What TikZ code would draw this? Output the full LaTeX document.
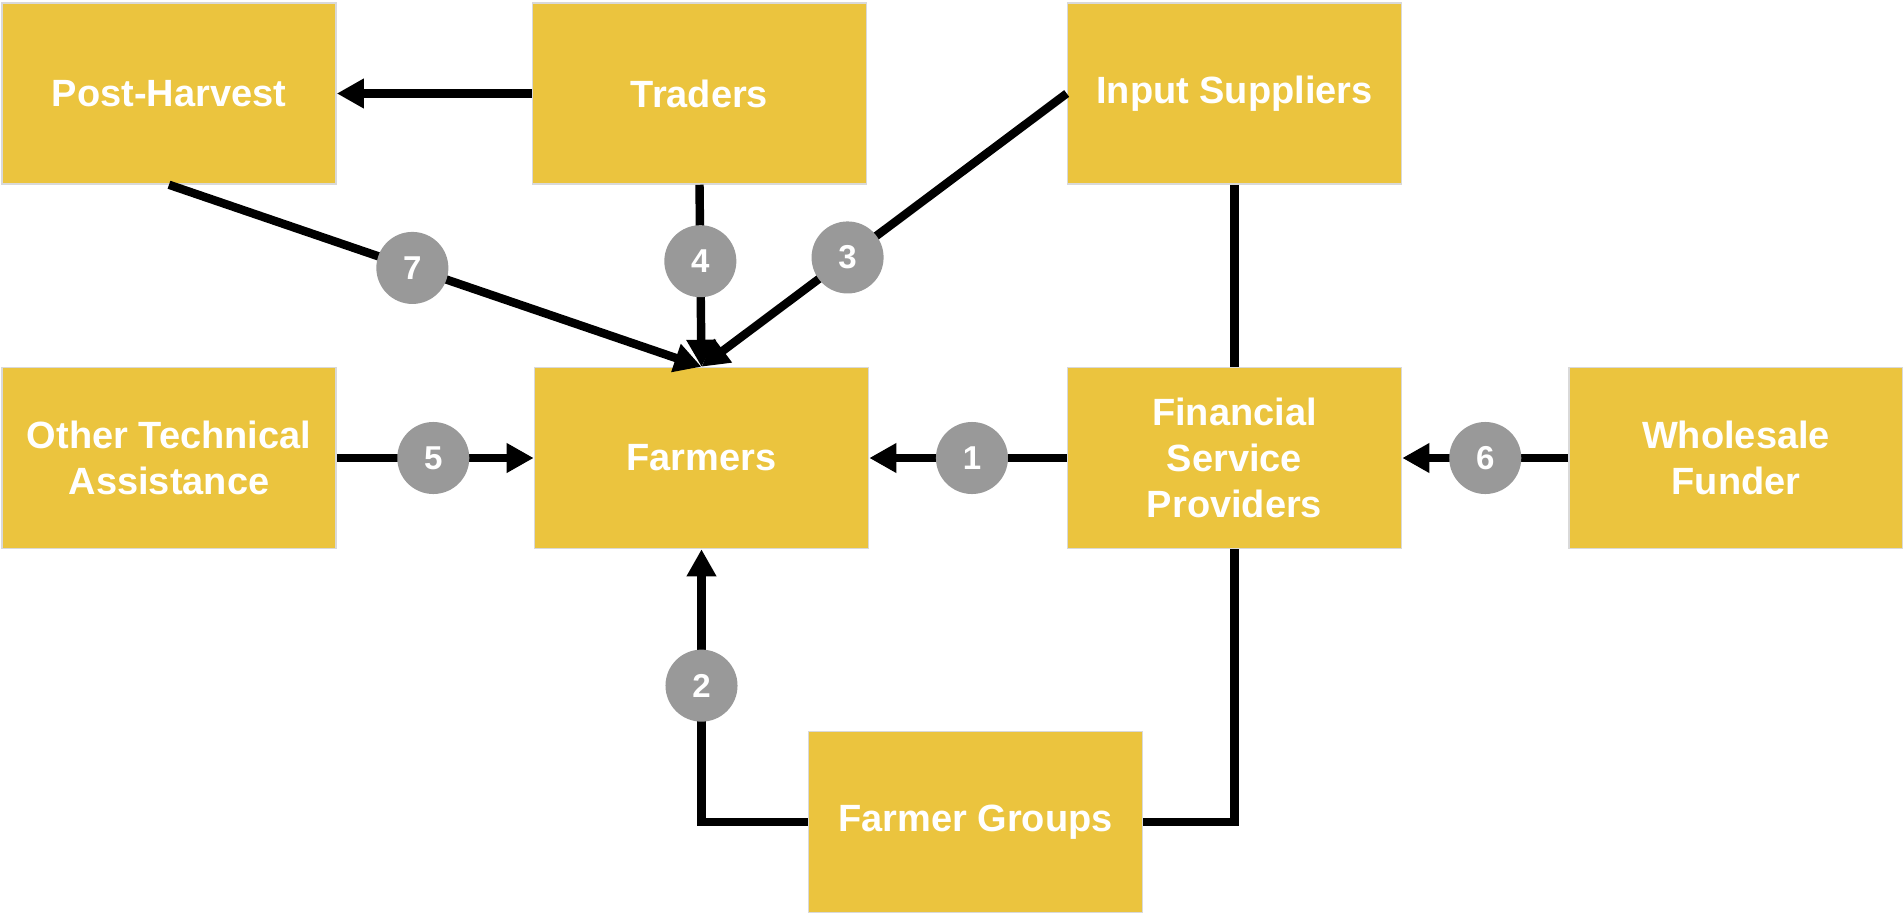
\documentclass[tikz,border=0pt]{standalone}
\usepackage{fontspec}
\setmainfont{Liberation Sans}
\usetikzlibrary{arrows.meta}

\definecolor{boxyellow}{RGB}{235,196,62}
\definecolor{dotgray}{RGB}{153,153,153}

\begin{document}
\begin{tikzpicture}[x=0.01cm, y=-0.01cm,
    actor/.style={fill=boxyellow, draw=black!15, line width=0.4pt,
        minimum width=3.34cm, minimum height=1.81cm, align=center,
        text=white, font=\fontsize{10.8}{13.1}\selectfont\bfseries},
    num/.style={circle, fill=dotgray, minimum size=0.72cm, inner sep=0pt,
        text=white, font=\fontsize{9.4}{11}\selectfont\bfseries},
    link/.style={line width=2.4pt},
    flow/.style={link, -{Triangle[length=2.7mm, width=2.8mm]}}]
    \useasboundingbox (0,0) rectangle (1903,912);

    % Top row
    \node[actor] (harvest) at (169,93.5) {Post-Harvest};
    \node[actor] (traders) at (699.5,93.5) {Traders};
    \node[actor] (inputs) at (1234.5,93.5) {Input Suppliers};

    % Middle row
    \node[actor] (othta) at (169,458) {Other Technical\\Assistance};
    \node[actor] (farmers) at (701.5,458) {Farmers};
    \node[actor] (fsp) at (1234.5,458) {Financial\\Service\\Providers};
    \node[actor] (funder) at (1736,458) {Wholesale\\Funder};

    % Bottom row
    \node[actor] (groups) at (975.5,822) {Farmer Groups};

    % Links into the farmers
    \draw[flow] (traders) -- (harvest);
    \draw[flow] (harvest.south) -- node[num, pos=0.457] {7} (farmers.north);
    \draw[flow] (traders.south) -- node[num, pos=0.42] {4} (farmers.north);
    \draw[flow] (inputs.west) -- node[num, pos=0.6] {3} (farmers.north);
    \draw[flow] (othta) -- node[num, pos=0.49] {5} (farmers);
    \draw[flow] (fsp) -- node[num, pos=0.48] {1} (farmers);
    \draw[flow] (funder) -- node[num, pos=0.5] {6} (fsp);
    \draw[flow] (groups.west) -| node[num, pos=0.75] {2} (farmers.south);

    % Plain links around the providers
    \draw[link] (inputs.south) -- (fsp.north);
    \draw[link] (fsp.south) |- (groups.east);
\end{tikzpicture}
\end{document}
